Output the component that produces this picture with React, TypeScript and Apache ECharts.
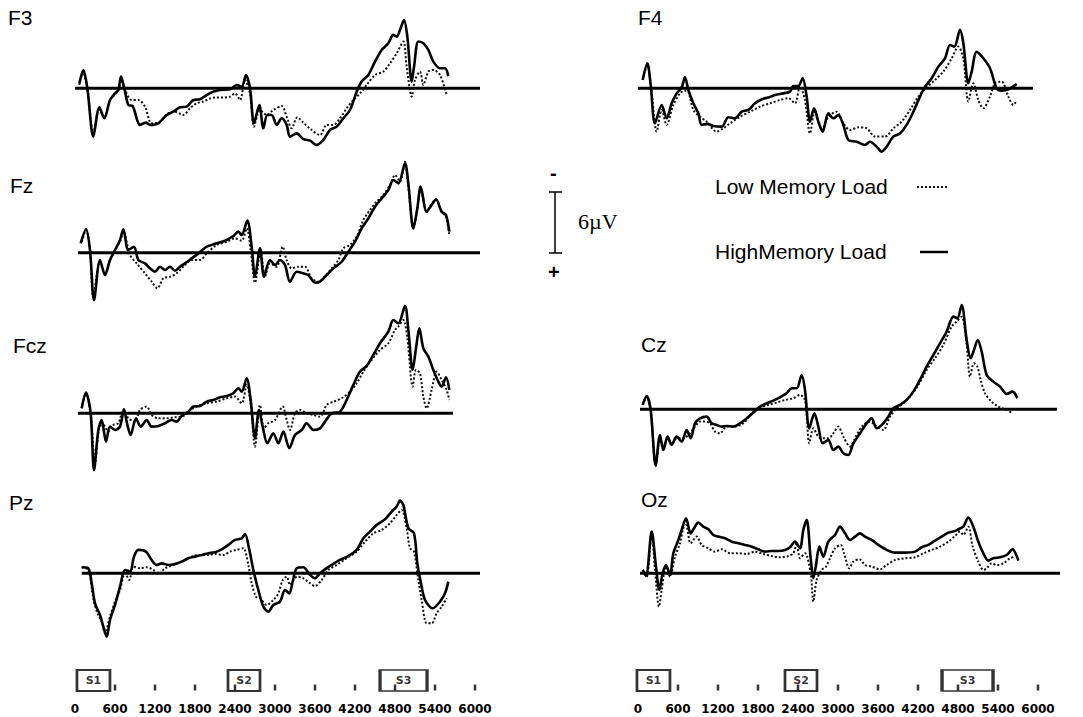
import { useEffect, useRef } from "react";
import * as echarts from "echarts";

// ---------- DATA (time in ms, amplitude in µV; negative plotted upward) ----------
const timeTickLabels = [0, 600, 1200, 1800, 2400, 3000, 3600, 4200, 4800, 5400, 6000];
const tickMarkTimes = [600, 1200, 1800, 2400, 3000, 3600, 4200, 4800, 5400, 6000];
const stimulusNames = ["S1", "S2", "S3"];
const stimulusTimesLeft = [277, 2535, 4928];
const stimulusTimesRight = [232, 2445, 4943];
const electrodeNames = ["F3", "F4", "Fz", "Fcz", "Cz", "Pz", "Oz"];
const baselineSpans = [
  [0, 6075], [0, 5925], [45, 6075], [45, 5670], [30, 6285], [100, 6075], [30, 6330],
];

const F3_HIGH = [[65,-0.5],[125,-1.8],[185,0],[275,4.75],[365,1.87],[440,2.95],[525,1.15],[600,0.5],[650,0.16],[690,-1.15],[740,0],[800,1.64],[865,1.74],[975,3.6],[1065,3.38],[1125,3.6],[1250,3.44],[1375,2.62],[1475,2.3],[1575,1.87],[1675,1.8],[1775,1.15],[1875,1.08],[1975,0.66],[2075,0.33],[2175,0.16],[2325,0.1],[2425,-0.33],[2500,-0.16],[2565,-1.3],[2625,0],[2685,3.44],[2765,1.64],[2825,3.93],[2885,2.62],[2950,2.62],[3025,3.6],[3100,2.95],[3175,3.6],[3225,4.75],[3325,4.43],[3425,5.0],[3525,5.15],[3625,5.57],[3725,5.08],[3825,4.1],[3925,3.77],[4025,2.95],[4125,2.13],[4225,0.33],[4300,-0.66],[4400,-1.31],[4500,-2.62],[4600,-3.77],[4700,-4.43],[4775,-5.25],[4825,-5.08],[4875,-5.74],[4935,-6.72],[4985,-5.08],[5050,-0.66],[5085,-2.1],[5150,-4.6],[5225,-4.43],[5300,-3.77],[5375,-2.62],[5475,-1.97],[5550,-1.97],[5600,-1.2]];
const F3_LOW = [[65,-0.33],[115,-1.64],[185,0],[275,4.4],[365,2.1],[440,2.8],[525,1.15],[650,0.2],[690,-0.8],[750,0.16],[850,1.15],[950,1.15],[1050,1.8],[1150,3.44],[1275,3.28],[1400,2.46],[1500,2.3],[1625,2.62],[1725,1.97],[1825,1.48],[1925,1.3],[2025,1.0],[2125,0.9],[2225,0.9],[2325,0.82],[2400,0.5],[2475,1.15],[2550,-0.82],[2625,0.5],[2685,3.77],[2775,2.13],[2875,2.62],[2975,2.13],[3100,1.74],[3175,2.8],[3250,3.93],[3335,2.85],[3425,3.38],[3550,4.1],[3675,4.6],[3775,3.6],[3875,3.6],[3975,2.95],[4075,1.97],[4175,1.15],[4275,0.5],[4375,-0.33],[4500,-1.31],[4625,-1.64],[4725,-2.46],[4825,-3.44],[4925,-4.6],[4975,-2.13],[5050,0.82],[5100,-0.82],[5175,-1.64],[5225,-0.33],[5300,-1.64],[5375,-1.8],[5475,-1.31],[5575,0.66]];

const F4_HIGH = [[70,-0.82],[140,-2.46],[190,-0.33],[255,3.44],[355,1.64],[430,2.95],[505,1.48],[580,0.5],[655,-0.1],[705,-1.08],[755,0.16],[830,1.48],[905,2.46],[955,3.6],[1040,3.5],[1130,3.7],[1255,3.77],[1355,2.85],[1455,2.95],[1555,2.3],[1655,2.13],[1755,1.48],[1855,1.08],[1955,0.9],[2055,0.66],[2180,0.5],[2280,0.33],[2330,-0.23],[2405,-0.23],[2470,-1.0],[2530,0.82],[2580,3.28],[2640,1.97],[2705,3.28],[2770,4.26],[2855,2.46],[2930,2.95],[3005,2.62],[3080,3.6],[3155,5.08],[3280,5.25],[3405,5.57],[3480,5.25],[3580,5.74],[3655,6.23],[3730,5.74],[3830,4.75],[3930,4.43],[4030,3.6],[4130,2.3],[4230,0.82],[4305,-0.16],[4405,-0.98],[4505,-2.13],[4605,-2.95],[4680,-4.26],[4745,-4.1],[4830,-5.74],[4880,-4.43],[4955,-0.5],[5005,-1.64],[5080,-3.6],[5180,-2.95],[5280,-1.97],[5380,0],[5455,0.23],[5555,0.1],[5680,-0.43]];
const F4_LOW = [[70,-0.98],[140,-2.3],[205,0.5],[280,4.26],[355,2.13],[430,3.6],[530,1.64],[630,0.5],[705,0.23],[755,0.33],[830,2.13],[930,2.8],[1030,3.28],[1180,4.26],[1280,3.93],[1380,3.44],[1530,2.8],[1680,2.3],[1830,1.8],[1980,1.48],[2130,1.15],[2255,0.98],[2355,1.48],[2430,-0.23],[2505,1.15],[2580,4.43],[2655,2.13],[2755,4.1],[2855,2.8],[2980,2.3],[3080,3.44],[3180,4.1],[3305,3.84],[3430,3.93],[3555,4.75],[3705,4.75],[3830,3.93],[3955,3.28],[4080,2.13],[4205,0.82],[4330,-0.1],[4455,-0.82],[4580,-1.64],[4705,-2.95],[4805,-4.1],[4880,-2.95],[4955,1.31],[5030,-0.5],[5105,1.15],[5180,1.97],[5280,0.82],[5355,-0.5],[5455,-0.66],[5555,0.82],[5630,1.64],[5680,1.15]];

const FZ_HIGH = [[85,-0.92],[165,-2.3],[225,-0.26],[285,4.66],[375,0.72],[450,2.2],[525,0.72],[600,-0.26],[675,-1.25],[725,-2.3],[800,-0.26],[885,-0.59],[950,0.72],[1050,1.05],[1125,1.54],[1200,1.87],[1275,1.38],[1350,1.7],[1425,1.38],[1500,1.77],[1575,1.38],[1650,1.05],[1750,0.56],[1850,0.07],[1975,-0.59],[2125,-0.92],[2250,-1.18],[2375,-1.64],[2450,-2.07],[2500,-1.74],[2585,-3.15],[2650,-0.59],[2700,2.36],[2775,-0.43],[2835,2.36],[2925,0.72],[3000,1.21],[3075,0.72],[3150,1.21],[3225,2.85],[3325,1.87],[3425,2.03],[3500,2.2],[3600,2.95],[3675,2.85],[3775,2.2],[3875,1.54],[4000,0.89],[4100,-0.1],[4200,-1.08],[4300,-2.39],[4400,-3.38],[4500,-4.52],[4600,-5.34],[4700,-6.16],[4775,-7.15],[4850,-6.82],[4950,-8.79],[5000,-6.82],[5075,-2.39],[5135,-4.36],[5185,-6.5],[5275,-4.03],[5350,-4.69],[5415,-5.25],[5500,-4.03],[5565,-3.7],[5615,-2.07]];
const FZ_LOW = [[100,-1.08],[165,-2.23],[225,-0.26],[275,4.33],[375,0.89],[450,2.03],[525,0.72],[600,-0.26],[675,-1.1],[725,-2.07],[825,0.23],[925,1.05],[1050,2.03],[1150,2.85],[1235,3.5],[1325,2.52],[1425,2.36],[1525,2.03],[1625,1.38],[1750,0.72],[1875,0.72],[1975,0.07],[2125,-0.75],[2275,-1.08],[2400,-1.41],[2500,-1.18],[2575,-2.39],[2635,-0.26],[2700,2.95],[2785,-0.26],[2850,2.36],[2925,1.05],[3025,1.38],[3115,-0.59],[3175,0.72],[3250,1.54],[3350,1.38],[3450,1.38],[3550,2.52],[3650,2.85],[3750,2.3],[3850,1.54],[3950,0.72],[4025,-0.43],[4125,-0.75],[4225,-1.57],[4325,-3.21],[4425,-4.2],[4525,-5.02],[4625,-5.67],[4725,-6.66],[4800,-7.64],[4875,-6.98],[4950,-8.95],[5000,-6.5],[5075,-2.39],[5135,-4.36],[5185,-6.33],[5275,-4.03],[5350,-4.85],[5415,-5.18],[5500,-4.03],[5565,-3.54],[5615,-1.64]];

const FCZ_HIGH = [[100,-0.49],[165,-2.03],[235,0],[285,5.6],[350,1.64],[400,0.66],[465,2.79],[525,1.31],[600,1.64],[675,1.31],[735,-0.39],[775,0.82],[835,2.13],[915,0.49],[985,1.31],[1075,0.66],[1150,1.31],[1250,1.25],[1350,0.98],[1450,0.66],[1525,0.82],[1600,0.26],[1700,-0.16],[1775,-0.66],[1875,-0.72],[1975,-1.15],[2075,-1.31],[2175,-1.57],[2275,-1.7],[2375,-1.97],[2450,-2.46],[2500,-2.13],[2575,-3.44],[2635,-1.31],[2700,2.46],[2760,-0.33],[2815,1.31],[2885,2.95],[2975,1.97],[3050,2.95],[3125,1.8],[3215,3.44],[3300,2.13],[3400,1.64],[3475,0.98],[3575,1.64],[3675,1.48],[3750,0.82],[3850,0],[3975,-0.16],[4075,-1.31],[4175,-2.79],[4275,-4.1],[4375,-4.66],[4475,-5.74],[4575,-6.89],[4700,-8.03],[4775,-9.18],[4850,-8.85],[4950,-10.56],[5000,-8.2],[5065,-4.26],[5115,-6.39],[5165,-8.36],[5225,-6.39],[5300,-5.57],[5375,-4.26],[5450,-3.11],[5500,-2.62],[5565,-3.54],[5615,-2.3]];
const FCZ_LOW = [[100,-0.49],[165,-1.97],[235,0],[300,4.9],[365,1.31],[425,1.15],[500,1.8],[575,1.15],[650,0.98],[725,-0.33],[800,0.49],[900,0.82],[975,-0.33],[1075,-0.66],[1150,0.16],[1250,0.49],[1375,0.49],[1500,0.39],[1625,0.26],[1725,-0.33],[1825,-0.66],[1975,-0.98],[2125,-1.15],[2275,-1.48],[2400,-1.64],[2500,-0.98],[2575,-2.79],[2635,-0.98],[2700,3.28],[2775,-0.82],[2835,1.48],[2900,0.98],[3000,0.66],[3115,-0.66],[3175,0.66],[3225,1.64],[3300,0],[3375,-0.33],[3475,0],[3575,0.16],[3675,0.33],[3775,-0.82],[3875,-1.15],[4000,-1.48],[4125,-2.13],[4225,-2.95],[4325,-4.1],[4450,-5.25],[4575,-6.23],[4700,-6.89],[4800,-8.2],[4850,-8.52],[4925,-9.18],[4985,-7.38],[5065,-2.62],[5115,-4.26],[5175,-3.93],[5225,-1.64],[5275,-0.49],[5350,-2.3],[5425,-4.1],[5500,-3.28],[5575,-2.3],[5615,-1.31]];

const CZ_HIGH = [[70,-0.43],[130,-1.31],[190,0.07],[265,5.5],[330,2.52],[380,4.0],[445,2.69],[505,3.5],[580,2.69],[655,3.18],[730,2.03],[790,2.85],[855,1.38],[930,0.89],[1030,0.72],[1105,1.38],[1180,1.54],[1255,1.7],[1330,1.64],[1430,1.7],[1530,1.38],[1630,0.89],[1730,0.33],[1830,-0.26],[1930,-0.59],[2030,-0.85],[2130,-1.18],[2230,-1.57],[2305,-2.07],[2380,-2.07],[2455,-3.38],[2505,-1.9],[2570,1.87],[2645,0.39],[2705,1.7],[2770,3.34],[2855,3.02],[2930,4.0],[3005,3.67],[3080,4.33],[3155,4.49],[3230,3.34],[3330,2.36],[3430,1.38],[3505,0.89],[3580,1.87],[3680,1.38],[3755,0.72],[3830,-0.1],[3930,-0.43],[4030,-0.92],[4130,-1.74],[4230,-2.89],[4330,-4.2],[4430,-5.34],[4530,-6.49],[4630,-7.64],[4730,-9.11],[4790,-8.95],[4855,-10.26],[4930,-6.82],[4990,-5.02],[5040,-5.84],[5095,-6.82],[5155,-5.67],[5230,-3.38],[5330,-2.72],[5430,-2.23],[5530,-1.51],[5620,-1.74],[5690,-1.08]];
const CZ_LOW = [[70,-0.43],[130,-1.25],[190,0.07],[265,5.6],[330,2.85],[380,3.67],[445,2.69],[505,3.5],[580,2.85],[680,2.85],[780,2.36],[855,1.7],[930,1.21],[1005,1.21],[1080,1.38],[1155,2.2],[1230,2.36],[1330,1.7],[1455,1.7],[1580,1.38],[1705,0.39],[1830,-0.2],[1955,-0.43],[2080,-0.66],[2205,-0.92],[2330,-1.08],[2430,-1.41],[2505,-0.92],[2570,3.34],[2630,1.87],[2705,2.69],[2780,2.85],[2855,2.85],[2930,2.36],[3005,1.7],[3080,2.69],[3180,3.67],[3280,2.52],[3380,1.54],[3480,1.21],[3580,1.7],[3680,2.03],[3780,0.72],[3880,-0.1],[3980,-0.59],[4080,-1.25],[4205,-2.39],[4330,-3.87],[4455,-5.02],[4580,-6.33],[4705,-8.13],[4780,-8.62],[4855,-9.11],[4930,-6.33],[4980,-3.21],[5040,-4.52],[5090,-4.2],[5140,-2.89],[5205,-1.57],[5305,-0.75],[5405,-0.26],[5530,0.07],[5620,0.39]];

const PZ_HIGH = [[100,-0.59],[200,-0.49],[250,0.98],[300,2.95],[375,4.1],[425,5.25],[475,6.23],[525,4.59],[600,3.11],[675,1.31],[750,-0.33],[825,-0.16],[885,-1.64],[950,-2.3],[1065,-2.13],[1150,-1.31],[1225,-0.82],[1300,-0.98],[1400,-0.82],[1500,-0.92],[1600,-1.15],[1700,-1.48],[1800,-1.64],[1900,-1.8],[2000,-1.97],[2100,-2.07],[2200,-2.36],[2300,-2.79],[2400,-3.28],[2500,-3.44],[2550,-3.87],[2615,-2.3],[2675,-0.33],[2750,1.64],[2825,3.28],[2900,3.77],[2975,3.11],[3075,2.79],[3150,1.64],[3215,1.97],[3265,0.82],[3325,-0.49],[3425,-0.59],[3525,0.16],[3600,0.49],[3675,0],[3750,-0.39],[3850,-0.82],[3975,-1.31],[4100,-1.7],[4225,-2.3],[4325,-3.44],[4425,-4.1],[4525,-4.75],[4650,-5.31],[4750,-6.07],[4825,-6.56],[4875,-7.15],[4925,-6.72],[5000,-4.43],[5085,-3.93],[5135,-0.98],[5185,0.82],[5250,2.62],[5365,3.44],[5475,2.79],[5550,1.97],[5600,0.82]];
const PZ_LOW = [[100,-0.59],[200,-0.33],[275,2.46],[335,3.93],[400,4.75],[450,5.9],[525,4.26],[600,2.79],[675,1.64],[750,0],[815,0.66],[875,-0.66],[975,-0.49],[1075,-0.59],[1175,-0.33],[1250,0.07],[1350,-0.49],[1475,-0.82],[1600,-1.15],[1725,-1.57],[1850,-1.8],[1975,-1.8],[2100,-1.9],[2225,-1.8],[2325,-2.13],[2425,-2.3],[2525,-2.46],[2600,-0.82],[2650,0.98],[2715,2.3],[2775,2.46],[2875,3.11],[2975,2.62],[3050,1.97],[3115,0.66],[3175,0.33],[3225,1.15],[3275,0.66],[3335,0.33],[3425,0.49],[3525,0.98],[3600,1.25],[3700,0.66],[3800,-0.33],[3925,-0.82],[4075,-1.48],[4225,-2.13],[4350,-3.11],[4475,-3.93],[4600,-4.26],[4725,-4.92],[4825,-5.74],[4900,-6.23],[4975,-4.43],[5025,-2.46],[5085,-2.13],[5150,0.66],[5200,2.62],[5275,4.92],[5350,4.92],[5425,3.93],[5500,3.28],[5575,2.46]];

const OZ_HIGH = [[70,-0.33],[120,0.26],[205,-4.1],[270,-0.66],[320,1.64],[370,0],[420,-0.82],[480,0.16],[530,-1.97],[605,-3.28],[655,-4.26],[720,-5.41],[790,-3.93],[840,-4.43],[905,-4.98],[980,-4.59],[1055,-4.33],[1130,-3.77],[1205,-3.61],[1305,-3.44],[1405,-3.11],[1505,-2.95],[1605,-2.79],[1705,-2.62],[1805,-2.36],[1905,-2.13],[2005,-2.2],[2105,-2.2],[2205,-2.3],[2280,-2.56],[2355,-3.11],[2430,-2.46],[2480,-4.26],[2530,-5.25],[2590,-1.48],[2630,0.49],[2670,-0.82],[2720,-2.62],[2780,-1.64],[2855,-3.11],[2955,-3.77],[3030,-4.59],[3105,-3.93],[3180,-3.28],[3255,-3.61],[3330,-3.93],[3405,-3.61],[3505,-3.28],[3605,-2.79],[3730,-2.3],[3855,-2.03],[4005,-2.03],[4155,-2.13],[4255,-2.56],[4355,-2.79],[4455,-3.21],[4555,-3.61],[4655,-4.0],[4755,-4.16],[4805,-4.33],[4880,-4.59],[4955,-5.48],[5020,-4.75],[5105,-3.11],[5180,-1.97],[5255,-1.25],[5330,-1.48],[5430,-1.57],[5530,-1.8],[5620,-2.36],[5680,-1.7],[5705,-1.25]];
const OZ_LOW = [[70,-0.33],[130,0.33],[205,-3.77],[255,-0.33],[315,3.28],[355,1.64],[420,-0.66],[480,0.33],[555,-1.64],[630,-2.95],[680,-4.43],[720,-4.75],[790,-2.95],[880,-3.61],[955,-2.79],[1055,-2.46],[1155,-2.13],[1255,-2.36],[1380,-1.97],[1505,-1.97],[1630,-1.9],[1755,-2.13],[1880,-1.9],[2005,-1.7],[2130,-1.57],[2255,-1.7],[2330,-1.97],[2380,-2.95],[2430,-1.48],[2505,-1.97],[2590,0],[2630,2.79],[2680,0.66],[2755,-0.33],[2820,-0.66],[2880,-1.48],[2955,-2.46],[3040,-2.79],[3090,-1.97],[3170,-0.49],[3230,-1.15],[3320,-1.38],[3405,-0.82],[3505,-0.66],[3630,-0.39],[3730,-0.82],[3855,-1.31],[4005,-1.48],[4155,-1.57],[4280,-1.97],[4405,-2.3],[4530,-2.62],[4655,-3.11],[4755,-3.67],[4830,-4.1],[4880,-3.77],[4955,-4.59],[5020,-2.62],[5105,-1.15],[5180,-0.33],[5230,-0.49],[5305,-0.98],[5380,-0.82],[5480,-0.98],[5580,-1.48],[5655,-1.64]];

const lowSeries = [F3_LOW, F4_LOW, FZ_LOW, FCZ_LOW, CZ_LOW, PZ_LOW, OZ_LOW];
const highSeries = [F3_HIGH, F4_HIGH, FZ_HIGH, FCZ_HIGH, CZ_HIGH, PZ_HIGH, OZ_HIGH];

// ---------- LAYOUT ----------
const PX_PER_UV = 10.17;
const MS_PER_PX = 15;
const Y_MAX = 8;
const X_MAX = 6600;
const panelLayout = [
  { left: 75, base: 88.3, ymin: -8, lx: 8, ly: 19 },
  { left: 638, base: 88.3, ymin: -8, lx: 638, ly: 19 },
  { left: 75, base: 252.7, ymin: -12, lx: 10, ly: 187 },
  { left: 75, base: 413.3, ymin: -12, lx: 13, ly: 347 },
  { left: 638, base: 409.3, ymin: -12, lx: 641, ly: 346 },
  { left: 75, base: 573.3, ymin: -12, lx: 9, ly: 504 },
  { left: 638, base: 573.3, ymin: -12, lx: 641, ly: 501 },
];

export default function App() {
  const ref = useRef<HTMLDivElement>(null);

  useEffect(() => {
    if (!ref.current) return;
    const chart = echarts.init(ref.current, null, { renderer: "svg" });

    const grids: any[] = [];
    const xAxes: any[] = [];
    const yAxes: any[] = [];
    const series: any[] = [];
    const graphics: any[] = [];

    panelLayout.forEach((p, i) => {
      grids.push({
        left: p.left,
        top: p.base + p.ymin * PX_PER_UV,
        width: X_MAX / MS_PER_PX,
        height: (Y_MAX - p.ymin) * PX_PER_UV,
        containLabel: false,
      });
      xAxes.push({ type: "value", gridIndex: i, min: 0, max: X_MAX, show: false });
      yAxes.push({ type: "value", gridIndex: i, min: p.ymin, max: Y_MAX, inverse: true, show: false });
      series.push({
        type: "line",
        xAxisIndex: i,
        yAxisIndex: i,
        data: baselineSpans[i].map((t) => [t, 0]),
        symbol: "none",
        lineStyle: { color: "#000", width: 3 },
        z: 1,
      });
      series.push({
        type: "line",
        name: "Low Memory Load",
        xAxisIndex: i,
        yAxisIndex: i,
        data: lowSeries[i],
        symbol: "none",
        smooth: 0.3,
        clip: false,
        lineStyle: { color: "#111", width: 2, type: [2, 2] },
        z: 2,
      });
      series.push({
        type: "line",
        name: "HighMemory Load",
        xAxisIndex: i,
        yAxisIndex: i,
        data: highSeries[i],
        symbol: "none",
        smooth: 0.3,
        clip: false,
        lineStyle: { color: "#000", width: 2.6 },
        z: 3,
      });
      graphics.push({
        type: "text",
        left: p.lx,
        top: p.ly - 12,
        style: {
          text: electrodeNames[i],
          font: "500 21px 'Liberation Sans', Arial, sans-serif",
          fill: "#000",
        },
      });
    });

    // bottom time axes
    const bottomLefts = [75, 638];
    const stimTimes = [stimulusTimesLeft, stimulusTimesRight];
    const stimWidths = [
      [33, 32, 47],
      [33, 32, 51],
    ];
    bottomLefts.forEach((left, k) => {
      const gi = panelLayout.length + k;
      grids.push({ left, top: 670, width: 6000 / MS_PER_PX, height: 21 });
      xAxes.push({
        type: "value",
        gridIndex: gi,
        min: 0,
        max: 6000,
        interval: 600,
        axisLine: { show: false },
        axisTick: { show: false },
        splitLine: { show: false },
        axisLabel: {
          show: true,
          margin: 12,
          color: "#000",
          fontSize: 12,
          fontWeight: "bold",
          fontFamily: "'DejaVu Sans', sans-serif",
          showMinLabel: true,
          showMaxLabel: true,
          formatter: (v: number) => (timeTickLabels.includes(v) ? String(v) : ""),
        },
      });
      yAxes.push({ type: "value", gridIndex: gi, min: 0, max: 1, show: false });
      series.push({
        type: "scatter",
        xAxisIndex: gi,
        yAxisIndex: gi,
        symbol: "rect",
        data: stimulusNames.map((n, j) => ({
          name: n,
          value: [stimTimes[k][j], 0.5],
          symbolSize: [stimWidths[k][j], 21],
        })),
        itemStyle: { color: "#fff", borderColor: "#000", borderWidth: 2.2 },
        label: {
          show: true,
          position: "inside",
          formatter: "{b}",
          color: "#000",
          fontSize: 11,
          fontWeight: "bold",
          fontFamily: "'DejaVu Sans', sans-serif",
        },
        z: 2,
      });
      series.push({
        type: "scatter",
        xAxisIndex: gi,
        yAxisIndex: gi,
        symbol: "rect",
        symbolSize: [2.5, 6],
        symbolOffset: [0, 7],
        data: tickMarkTimes.map((t) => [t, 0.5]),
        itemStyle: { color: "#000" },
        z: 3,
      });
    });

    // scale bar
    graphics.push(
      { type: "line", shape: { x1: 555, y1: 192, x2: 555, y2: 253 }, style: { stroke: "#000", lineWidth: 1.5 } },
      { type: "line", shape: { x1: 549, y1: 192, x2: 562, y2: 192 }, style: { stroke: "#000", lineWidth: 1.5 } },
      { type: "line", shape: { x1: 549, y1: 253, x2: 562, y2: 253 }, style: { stroke: "#000", lineWidth: 1.5 } },
      { type: "text", left: 550, top: 163, style: { text: "-", font: "bold 20px 'Liberation Sans', Arial", fill: "#000" } },
      { type: "text", left: 548, top: 262, style: { text: "+", font: "bold 20px 'Liberation Sans', Arial", fill: "#000" } },
      { type: "text", left: 578, top: 210, style: { text: "6µV", font: "22px 'Liberation Serif', 'Times New Roman', serif", fill: "#000" } },
      // legend
      { type: "text", left: 715, top: 176, style: { text: "Low Memory Load", font: "21px 'Liberation Sans', Arial", fill: "#000" } },
      { type: "text", left: 715, top: 241, style: { text: "HighMemory Load", font: "21px 'Liberation Sans', Arial", fill: "#000" } },
      { type: "line", shape: { x1: 917, y1: 187, x2: 948, y2: 187 }, style: { stroke: "#111", lineWidth: 2, lineDash: [2, 2] } },
      { type: "line", shape: { x1: 920, y1: 252, x2: 948, y2: 252 }, style: { stroke: "#000", lineWidth: 2.5 } }
    );

    chart.setOption({
      animation: false,
      backgroundColor: "#fff",
      grid: grids,
      xAxis: xAxes,
      yAxis: yAxes,
      series,
      graphic: graphics,
    });
    return () => chart.dispose();
  }, []);

  return (
    <div
      ref={ref}
      style={{ position: "fixed", left: 0, top: 0, width: 1083, height: 717, background: "#fff" }}
    />
  );
}
